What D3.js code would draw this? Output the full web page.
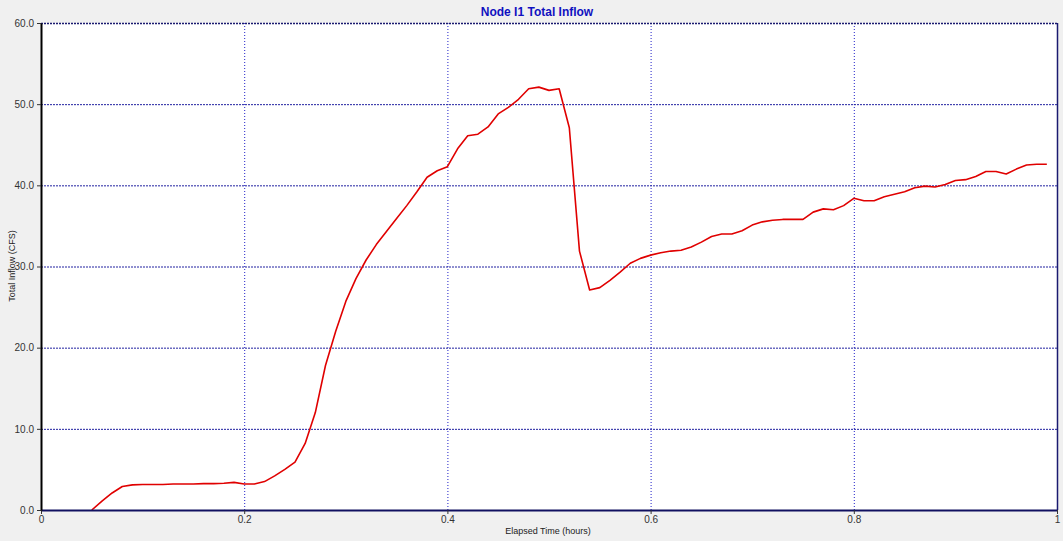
<!DOCTYPE html>
<html><head><meta charset="utf-8">
<script src="https://cdn.jsdelivr.net/npm/d3@7"></script>
<style>html,body{margin:0;padding:0;background:#f0f0f0;}svg{display:block;}</style>
</head><body>
<svg id="chart" width="1063" height="541"></svg>
<script>
const titleText = "Node I1 Total Inflow";
const xTitle = "Elapsed Time (hours)";
const yTitle = "Total Inflow (CFS)";
const xTicks = [0, 0.2, 0.4, 0.6, 0.8, 1];
const xTickLabels = ["0", "0.2", "0.4", "0.6", "0.8", "1"];
const yTicks = [0, 10, 20, 30, 40, 50, 60];
const yTickLabels = ["0.0", "10.0", "20.0", "30.0", "40.0", "50.0", "60.0"];
const times = [0.05,0.06,0.07,0.08,0.09,0.10,0.11,0.12,0.13,0.14,0.15,0.16,0.17,0.18,0.19,0.20,0.21,0.22,0.23,0.24,
  0.25,0.26,0.27,0.28,0.29,0.30,0.31,0.32,0.33,0.34,0.35,0.36,0.37,0.38,0.39,0.40,0.41,0.42,0.43,0.44,
  0.45,0.46,0.47,0.48,0.49,0.50,0.51,0.52,0.53,0.54,0.55,0.56,0.57,0.58,0.59,0.60,0.61,0.62,0.63,0.64,
  0.65,0.66,0.67,0.68,0.69,0.70,0.71,0.72,0.73,0.74,0.75,0.76,0.77,0.78,0.79,0.80,0.81,0.82,0.83,0.84,
  0.85,0.86,0.87,0.88,0.89,0.90,0.91,0.92,0.93,0.94,0.95,0.96,0.97,0.98,0.99];
const inflow = [0.0,1.1,2.1,2.9,3.1,3.15,3.15,3.15,3.2,3.2,3.2,3.25,3.25,3.3,3.4,3.2,3.2,3.5,4.2,5.0,
  5.9,8.2,12.0,17.8,22.0,25.7,28.5,30.8,32.7,34.3,35.9,37.5,39.2,41.0,41.8,42.3,44.5,46.1,46.3,47.2,
  48.8,49.6,50.6,51.9,52.1,51.7,51.9,47.1,31.9,27.1,27.4,28.3,29.3,30.4,31.0,31.4,31.7,31.9,32.0,32.4,
  33.0,33.7,34.0,34.0,34.4,35.1,35.5,35.7,35.8,35.8,35.8,36.7,37.1,37.0,37.5,38.4,38.1,38.1,38.6,38.9,
  39.2,39.7,39.9,39.8,40.1,40.6,40.7,41.1,41.7,41.7,41.4,42.0,42.5,42.6,42.6];

const svg = d3.select("#chart");
const L = 41, R = 1057, T = 23, B = 510;
const x = d3.scaleLinear().domain([0, 1]).range([L, R]);
const y = d3.scaleLinear().domain([0, 60]).range([B, T]);
const font = "'Liberation Sans', Arial, sans-serif";

svg.append("rect").attr("x", L).attr("y", T).attr("width", R - L).attr("height", B - T).attr("fill", "#ffffff");

// gridlines
const grid = svg.append("g");
grid.selectAll("line.gx").data(xTicks.filter(d => d > 0 && d < 1)).join("line")
  .attr("x1", d => x(d) + 0.5).attr("x2", d => x(d) + 0.5).attr("y1", T).attr("y2", B)
  .attr("stroke", "#2020c8").attr("stroke-width", 1).attr("stroke-dasharray", "1,2");
grid.selectAll("line.gy").data(yTicks.filter(d => d > 0 && d < 60)).join("line")
  .attr("y1", d => y(d) + 0.5).attr("y2", d => y(d) + 0.5).attr("x1", L).attr("x2", R)
  .attr("stroke", "#2020a0").attr("stroke-width", 1).attr("stroke-dasharray", "2,1");

// top border
svg.append("line").attr("x1", L).attr("x2", R).attr("y1", T + 0.5).attr("y2", T + 0.5)
  .attr("stroke", "#1a1a70").attr("stroke-width", 1.5).attr("stroke-dasharray", "2,1");
// right border
svg.append("line").attr("x1", R + 0.5).attr("x2", R + 0.5).attr("y1", T).attr("y2", B)
  .attr("stroke", "#1a1a70").attr("stroke-width", 1.5);

// line
const line = d3.line().x((d, i) => x(times[i])).y(d => y(d));
svg.append("path").datum(inflow).attr("d", line).attr("fill", "none")
  .attr("stroke", "#e00000").attr("stroke-width", 1.6).attr("stroke-linejoin", "round");

// axes
const xAxis = d3.axisBottom(x).tickValues(xTicks).tickFormat((d, i) => xTickLabels[i]).tickSize(4).tickSizeOuter(0);
const gx = svg.append("g").attr("transform", `translate(0,${B})`).call(xAxis);
gx.select(".domain").attr("stroke", "#101060").attr("stroke-width", 2);
gx.selectAll(".tick line").attr("stroke", "#333");
gx.selectAll(".tick text").attr("font-family", font).attr("font-size", 10).attr("fill", "#333").attr("dy", "0.55em");

const yAxis = d3.axisLeft(y).tickValues(yTicks).tickFormat((d, i) => yTickLabels[i]).tickSize(4).tickSizeOuter(0);
const gy = svg.append("g").attr("transform", `translate(${L},0)`).call(yAxis);
gy.select(".domain").attr("stroke", "#000").attr("stroke-width", 2);
gy.selectAll(".tick line").attr("stroke", "#333");
gy.selectAll(".tick text").attr("font-family", font).attr("font-size", 10).attr("fill", "#333");

// titles
svg.append("text").attr("x", 537).attr("y", 16).attr("text-anchor", "middle")
  .attr("font-family", font).attr("font-size", 12).attr("font-weight", "bold").attr("fill", "#1010c0").text(titleText);
svg.append("text").attr("x", 548).attr("y", 534).attr("text-anchor", "middle")
  .attr("font-family", font).attr("font-size", 9).attr("fill", "#222").text(xTitle);
svg.append("text").attr("transform", "translate(15,266) rotate(-90)").attr("text-anchor", "middle")
  .attr("font-family", font).attr("font-size", 9).attr("fill", "#222").text(yTitle);
</script>
</body></html>
